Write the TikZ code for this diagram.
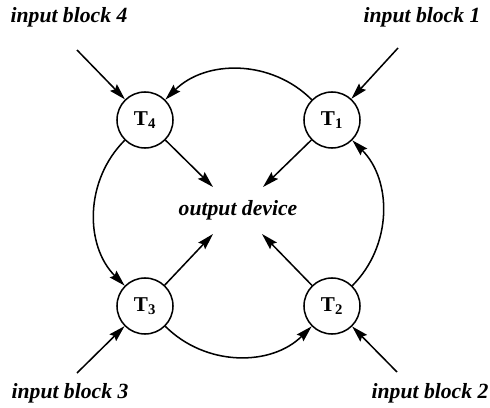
\documentclass[tikz,border=0pt]{standalone}
\usepackage{fontspec}
\setmainfont{Liberation Serif}
\usetikzlibrary{arrows.meta}

\begin{document}
\begin{tikzpicture}[
    x=0.03cm, y=0.03cm,
    station/.style={circle, draw, line width=1.3pt, minimum size=1.68cm, inner sep=0pt, font=\fontsize{18}{21}\selectfont\bfseries},
    blocklabel/.style={font=\fontsize{18.5}{22}\selectfont\bfseries\itshape},
    arrow/.style={-{Stealth[length=14pt, width=8pt, inset=2pt]}, line width=1.3pt}
]
\useasboundingbox (0,0) rectangle (490,407);

% Stations
\node[station] (t4) at (145,287) {T\textsubscript{4}};
\node[station] (t1) at (332,287) {T\textsubscript{1}};
\node[station] (t3) at (145,101) {T\textsubscript{3}};
\node[station] (t2) at (332,101) {T\textsubscript{2}};

% Output device
\node[blocklabel] (out) at (238,197) {output device};
\coordinate (o4) at (213,220);
\coordinate (o1) at (263,220);
\coordinate (o3) at (213,173);
\coordinate (o2) at (262,173);

% Input blocks
\node[blocklabel] (ib4) at (69,390) {input block 4};
\node[blocklabel] (ib1) at (422,390) {input block 1};
\node[blocklabel] (ib3) at (70,14) {input block 3};
\node[blocklabel] (ib2) at (430,14) {input block 2};
\coordinate (i4) at (77,357);
\coordinate (i1) at (398,359);
\coordinate (i3) at (77,34);
\coordinate (i2) at (397,35);

% Inputs into the stations
\draw[arrow] (i4) -- (t4);
\draw[arrow] (i1) -- (t1);
\draw[arrow] (i3) -- (t3);
\draw[arrow] (i2) -- (t2);

% Stations to the output device
\draw[arrow] (t4) -- (o4);
\draw[arrow] (t1) -- (o1);
\draw[arrow] (t3) -- (o3);
\draw[arrow] (t2) -- (o2);

% Ring
\draw[arrow] (t1) to[bend right=45] (t4);
\draw[arrow] (t4) to[bend right=45] (t3);
\draw[arrow] (t3) to[bend right=45] (t2);
\draw[arrow] (t2) to[bend right=45] (t1);

\end{tikzpicture}
\end{document}
